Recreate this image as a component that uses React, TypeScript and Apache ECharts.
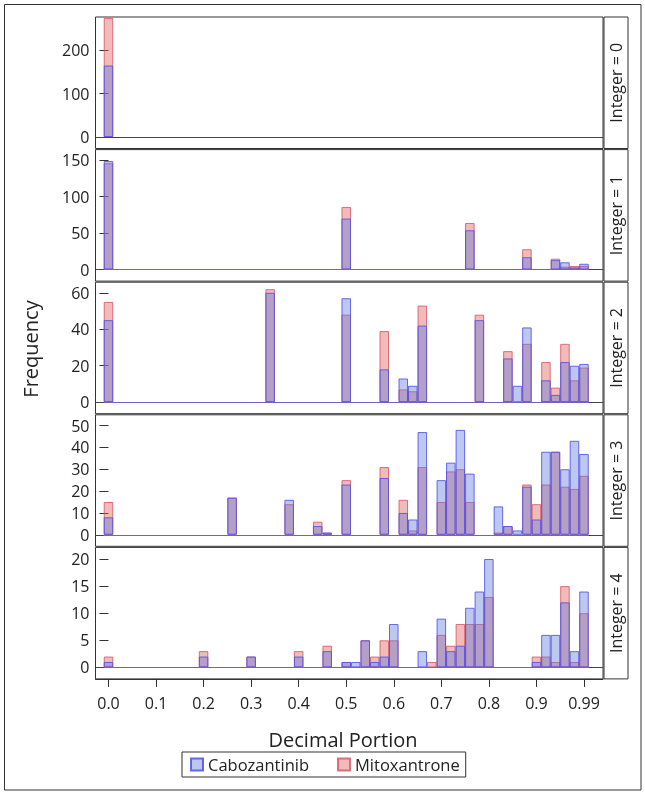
import React, { useEffect, useRef } from "react";
import * as echarts from "echarts";

// ---- Data (bin centre, counts) ----
const BINS_0 = [0];
const CABO_0 = [165];
const MITO_0 = [275];

const BINS_1 = [0, 0.5, 0.76, 0.88, 0.94, 0.96, 0.98, 1.0];
const CABO_1 = [149, 70, 54, 17, 13, 10, 3, 8];
const MITO_1 = [146, 86, 64, 28, 15, 4, 5, 5];

const BINS_2 = [0, 0.34, 0.5, 0.58, 0.62, 0.64, 0.66, 0.78, 0.84, 0.86, 0.88, 0.92, 0.94, 0.96, 0.98, 1.0];
const CABO_2 = [45, 60, 57, 18, 13, 9, 42, 45, 24, 9, 41, 12, 4, 22, 20, 21];
const MITO_2 = [55, 62, 48, 39, 7, 6, 53, 48, 28, 0, 32, 22, 8, 32, 12, 19];

const BINS_3 = [0, 0.26, 0.38, 0.44, 0.46, 0.5, 0.58, 0.62, 0.64, 0.66, 0.7, 0.72, 0.74, 0.76, 0.82, 0.84, 0.86, 0.88, 0.9, 0.92, 0.94, 0.96, 0.98, 1.0];
const CABO_3 = [8, 17, 16, 4, 1, 23, 26, 10, 7, 47, 25, 33, 48, 28, 13, 4, 2, 22, 7, 38, 38, 30, 43, 37];
const MITO_3 = [15, 17, 14, 6, 1, 25, 31, 16, 2, 31, 15, 29, 30, 15, 1, 4, 0, 23, 14, 23, 38, 22, 21, 27];

const BINS_4 = [0, 0.2, 0.3, 0.4, 0.46, 0.5, 0.52, 0.54, 0.56, 0.58, 0.6, 0.66, 0.68, 0.7, 0.72, 0.74, 0.76, 0.78, 0.8, 0.9, 0.92, 0.94, 0.96, 0.98, 1.0];
const CABO_4 = [1, 2, 2, 2, 3, 1, 1, 5, 1, 2, 8, 3, 0, 9, 3, 4, 11, 14, 20, 1, 6, 6, 12, 3, 14];
const MITO_4 = [2, 3, 2, 3, 4, 1, 0, 5, 2, 5, 5, 0, 1, 6, 4, 8, 8, 8, 13, 2, 2, 1, 15, 1, 10];

const PANEL_LABELS = ["Integer = 0", "Integer = 1", "Integer = 2", "Integer = 3", "Integer = 4"];
const Y_MAX = [277, 164.7, 65.8, 54.9, 22.14];
const Y_TICKS = [
  [0, 100, 200],
  [0, 50, 100, 150],
  [0, 20, 40, 60],
  [0, 10, 20, 30, 40, 50],
  [0, 5, 10, 15, 20],
];
const X_TICKS = [0, 0.1, 0.2, 0.3, 0.4, 0.5, 0.6, 0.7, 0.8, 0.9, 1.0];
const X_TICK_LABELS = ["0.0", "0.1", "0.2", "0.3", "0.4", "0.5", "0.6", "0.7", "0.8", "0.9", "0.99"];
const SERIES_NAMES = ["Cabozantinib", "Mitoxantrone"];

const PANELS = [
  { bins: BINS_0, cabo: CABO_0, mito: MITO_0, baseline: false },
  { bins: BINS_1, cabo: CABO_1, mito: MITO_1, baseline: true },
  { bins: BINS_2, cabo: CABO_2, mito: MITO_2, baseline: true },
  { bins: BINS_3, cabo: CABO_3, mito: MITO_3, baseline: true },
  { bins: BINS_4, cabo: CABO_4, mito: MITO_4, baseline: true },
];

// ---- Layout / style ----
const FONT = "'Open Sans', 'Noto Sans', sans-serif";
const X_MIN = -0.0273;
const X_MAX = 1.04;
const BIN_WIDTH = 0.02;
const BIN_LO = 0;
const BIN_HI = 1.0;
const PLOT_LEFT = 95.5;
const PLOT_RIGHT = 603;
const PANEL_TOP0 = 17;
const PANEL_PITCH = 132.6;
const PANEL_H = 131.5;
const ZERO_OFFSET = 120;
const STRIP_W = 24;

const BLUE_FILL = "rgba(95,125,220,0.42)";
const BLUE_LINE = "rgba(80,80,235,0.85)";
const RED_FILL = "rgba(225,90,85,0.42)";
const RED_LINE = "rgba(215,80,95,0.8)";
const BASE_LINE = "#7a5ec8";

export default function App() {
  const ref = useRef<HTMLDivElement>(null);
  useEffect(() => {
    if (!ref.current) return;
    const chart = echarts.init(ref.current, undefined, { renderer: "svg" });
    const plotW = PLOT_RIGHT - PLOT_LEFT;
    const barW = (BIN_WIDTH * plotW) / (X_MAX - X_MIN);
    const tops = PANELS.map((_, i) => PANEL_TOP0 + i * PANEL_PITCH);

    const grid = PANELS.map((_, i) => ({
      left: PLOT_LEFT,
      width: plotW,
      top: tops[i],
      height: PANEL_H,
      show: true,
      borderColor: "#333",
      borderWidth: 1,
      backgroundColor: "transparent",
    }));

    const last = PANELS.length - 1;
    const xAxis = PANELS.map((_, i) => ({
      type: "value",
      gridIndex: i,
      min: X_MIN,
      max: X_MAX,
      axisLine: { show: i === last, onZero: false, lineStyle: { color: "#333", width: 1 } },
      axisTick: { show: i === last, customValues: X_TICKS, length: 8, lineStyle: { color: "#333" } },
      axisLabel: {
        show: i === last,
        customValues: X_TICKS,
        formatter: (v: number) => {
          const k = X_TICKS.findIndex((t) => Math.abs(t - v) < 1e-6);
          return k >= 0 ? X_TICK_LABELS[k] : "";
        },
        fontSize: 16,
        color: "#222",
        margin: 16,
        fontFamily: FONT,
      },
      splitLine: { show: false },
    }));

    const yAxis = PANELS.map((_, i) => {
      const max = Y_MAX[i];
      const min = -max * (PANEL_H - ZERO_OFFSET) / ZERO_OFFSET;
      return {
        type: "value",
        gridIndex: i,
        min,
        max,
        axisLine: { show: false },
        axisTick: { show: true, customValues: Y_TICKS[i], length: 9, lineStyle: { color: "#333" } },
        axisLabel: { customValues: Y_TICKS[i], fontSize: 16, color: "#222", margin: 6, fontFamily: FONT },
        splitLine: { show: false },
      };
    });

    const series: any[] = [];
    PANELS.forEach((p, i) => {
      series.push({
        type: "bar",
        name: SERIES_NAMES[1],
        xAxisIndex: i,
        yAxisIndex: i,
        barWidth: barW,
        barGap: "-100%",
        data: p.bins.map((b, k) => [b, p.mito[k]]).filter((d) => d[1] > 0),
        itemStyle: { color: RED_FILL, borderColor: RED_LINE, borderWidth: 1 },
        emphasis: { disabled: true },
      });
      const ml: any[] = [{ yAxis: 0, lineStyle: { color: "#444", width: 1, type: "solid" } }];
      if (p.baseline) {
        ml.push([
          { coord: [BIN_LO - BIN_WIDTH / 2, 0], lineStyle: { color: BASE_LINE, width: 1.2, type: "solid" } },
          { coord: [BIN_HI + BIN_WIDTH / 2, 0] },
        ]);
      }
      series.push({
        type: "bar",
        name: SERIES_NAMES[0],
        xAxisIndex: i,
        yAxisIndex: i,
        barWidth: barW,
        barGap: "-100%",
        data: p.bins.map((b, k) => [b, p.cabo[k]]).filter((d) => d[1] > 0),
        itemStyle: { color: BLUE_FILL, borderColor: BLUE_LINE, borderWidth: 1 },
        emphasis: { disabled: true },
        markLine: {
          silent: true,
          symbol: ["none", "none"],
          label: { show: false },
          data: ml,
        },
      });
    });

    const graphic: any[] = [
      {
        type: "rect",
        shape: { x: 4.5, y: 4.5, width: 636.5, height: 785.5 },
        style: { fill: "none", stroke: "#333", lineWidth: 1 },
        silent: true,
      },
      {
        type: "text",
        x: 30,
        y: 349,
        rotation: Math.PI / 2,
        style: { text: "Frequency", fontSize: 20, fontFamily: FONT, fill: "#222", align: "center", verticalAlign: "middle" },
        silent: true,
      },
      {
        type: "text",
        x: 343,
        y: 739,
        style: { text: "Decimal Portion", fontSize: 20, fontFamily: FONT, fill: "#222", align: "center", verticalAlign: "middle" },
        silent: true,
      },
    ];
    PANELS.forEach((_, i) => {
      graphic.push({
        type: "rect",
        shape: { x: PLOT_RIGHT + 1, y: tops[i], width: STRIP_W, height: PANEL_H },
        style: { fill: "none", stroke: "#333", lineWidth: 1 },
        silent: true,
      });
      graphic.push({
        type: "text",
        x: PLOT_RIGHT + 1 + STRIP_W / 2,
        y: tops[i] + PANEL_H / 2,
        rotation: Math.PI / 2,
        style: { text: PANEL_LABELS[i], fontSize: 16, fontFamily: FONT, fill: "#222", align: "center", verticalAlign: "middle" },
        silent: true,
      });
    });

    chart.setOption({
      animation: false,
      grid,
      xAxis,
      yAxis,
      series,
      graphic,
      legend: {
        data: SERIES_NAMES,
        left: 182,
        top: 752,
        orient: "horizontal",
        icon: "rect",
        itemWidth: 12,
        itemHeight: 12,
        itemGap: 28,
        padding: [4, 6, 4, 8],
        borderColor: "#333",
        borderWidth: 1,
        textStyle: { fontSize: 16.5, fontFamily: FONT, color: "#222" },
        selectedMode: false,
      },
    });
    return () => chart.dispose();
  }, []);
  return <div ref={ref} style={{ position: "fixed", left: 0, top: 0, width: 645, height: 795 }} />;
}
